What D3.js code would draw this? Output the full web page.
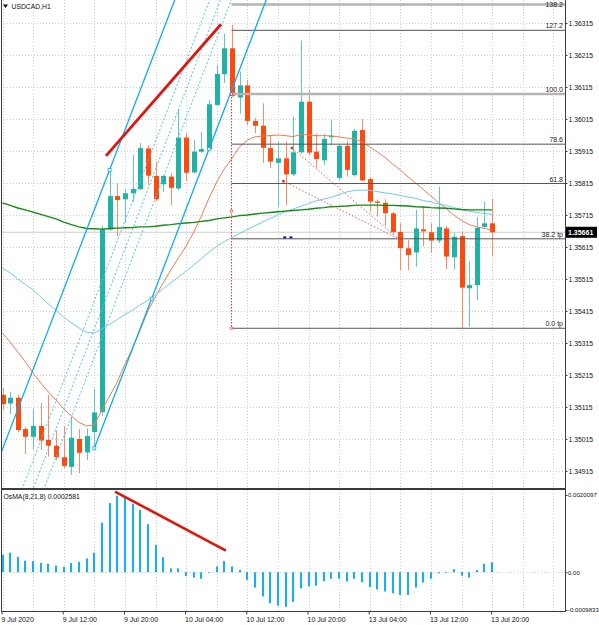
<!DOCTYPE html>
<html><head><meta charset="utf-8">
<script src="https://cdn.jsdelivr.net/npm/d3@7"></script>
<style>body{margin:0;background:#fff}svg{display:block;font-family:"Liberation Sans",Arial,sans-serif}</style>
</head><body><svg id="c" width="599" height="625"></svg>
<script>
// ---------------- DATA ----------------
const timeLabelIdx = [0,8,16,24,32,40,48,56,64];
const timeLabels = ["9 Jul 2020","9 Jul 12:00","9 Jul 20:00","10 Jul 04:00","10 Jul 12:00","10 Jul 20:00","13 Jul 04:00","13 Jul 12:00","13 Jul 20:00"];
const priceTicks = [1.34915,1.35015,1.35115,1.35215,1.35315,1.35415,1.35515,1.35615,1.35715,1.35815,1.35915,1.36015,1.36115,1.36215,1.36315];
const oscTicks = [0.0020097, 0, -0.0009833];
const oscTickLabels = ["0.0020097","0.00","-0.0009833"];

const opens=[1.35153,1.35126,1.35144,1.35046,1.35022,1.35056,1.35012,1.34994,1.34958,1.34928,
1.35015,1.34973,1.35037,1.35099,1.35670,1.35774,1.35764,1.35783,1.35796,1.35923,
1.35837,1.35811,1.35835,1.35798,1.35957,1.35848,1.35913,1.35921,1.36059,1.36155,
1.36236,1.36082,1.36120,1.36009,1.35994,1.35924,1.35878,1.35892,1.35842,1.35911,
1.36069,1.35913,1.35886,1.35958,1.35831,1.35931,1.35840,1.35981,1.35827,1.35757,
1.35753,1.35720,1.35662,1.35611,1.35598,1.35670,1.35661,1.35635,1.35673,1.35583,
1.35649,1.35486,1.35496,1.35678,1.35689];
const highs=[1.35174,1.35163,1.35153,1.35053,1.35108,1.35127,1.35153,1.35041,1.35056,1.35083,
1.35046,1.35048,1.35171,1.35681,1.35856,1.35814,1.35796,1.35902,1.35940,1.35934,
1.35882,1.35840,1.35845,1.36043,1.35971,1.35949,1.35975,1.36074,1.36184,1.36281,
1.36309,1.36163,1.36137,1.36018,1.36064,1.35965,1.35944,1.35944,1.36022,1.36260,
1.36106,1.35970,1.35968,1.36012,1.35937,1.35946,1.35984,1.36015,1.35831,1.35763,
1.35764,1.35724,1.35689,1.35637,1.35731,1.35741,1.35689,1.35803,1.35681,1.35659,
1.35663,1.35571,1.35708,1.35757,1.35765];
const lows=[1.35106,1.35093,1.35037,1.34968,1.34983,1.34981,1.34960,1.34949,1.34924,1.34903,
1.34908,1.34949,1.34986,1.35087,1.35665,1.35649,1.35690,1.35756,1.35793,1.35809,
1.35759,1.35787,1.35746,1.35793,1.35821,1.35845,1.35909,1.35918,1.36056,1.36128,
1.36084,1.36031,1.35996,1.35971,1.35878,1.35862,1.35741,1.35746,1.35837,1.35906,
1.35902,1.35861,1.35871,1.35934,1.35824,1.35835,1.35835,1.35821,1.35725,1.35710,
1.35681,1.35656,1.35543,1.35543,1.35553,1.35617,1.35597,1.35628,1.35546,1.35545,
1.35361,1.35366,1.35449,1.35674,1.35585];
const closes=[1.35124,1.35144,1.35043,1.35022,1.35056,1.35010,1.34994,1.34958,1.34931,1.35019,
1.34972,1.35024,1.35098,1.35671,1.35774,1.35762,1.35783,1.35796,1.35924,1.35838,
1.35764,1.35837,1.35800,1.35957,1.35847,1.35913,1.35921,1.36061,1.36156,1.36236,
1.36087,1.36120,1.36009,1.35994,1.35925,1.35882,1.35892,1.35842,1.35911,1.36069,
1.35910,1.35890,1.35953,1.35963,1.35931,1.35856,1.35978,1.35823,1.35757,1.35753,
1.35721,1.35662,1.35612,1.35590,1.35673,1.35664,1.35635,1.35677,1.35585,1.35647,
1.35488,1.35496,1.35675,1.35689,1.35661];

const maSlow=[1.35753,1.35745,1.35737,1.35731,1.35724,1.35717,1.35710,1.35703,1.35693,1.35685,
1.35678,1.35673,1.35672,1.35671,1.35673,1.35674,1.35675,1.35676,1.35678,1.35678,
1.35680,1.35683,1.35685,1.35688,1.35690,1.35692,1.35695,1.35698,1.35703,1.35706,
1.35709,1.35713,1.35715,1.35718,1.35721,1.35723,1.35725,1.35727,1.35729,1.35731,
1.35733,1.35736,1.35738,1.35741,1.35742,1.35743,1.35745,1.35746,1.35746,1.35746,
1.35745,1.35745,1.35744,1.35743,1.35741,1.35740,1.35738,1.35737,1.35736,1.35734,
1.35732,1.35731,1.35731,1.35731,1.35731];
const maMid=[1.35549,1.35534,1.35515,1.35498,1.35481,1.35459,1.35437,1.35417,1.35396,1.35378,
1.35362,1.35349,1.35346,1.35359,1.35374,1.35388,1.35404,1.35418,1.35434,1.35448,
1.35465,1.35484,1.35503,1.35521,1.35540,1.35559,1.35579,1.35599,1.35617,1.35632,
1.35645,1.35657,1.35670,1.35681,1.35693,1.35704,1.35715,1.35726,1.35734,1.35742,
1.35751,1.35759,1.35765,1.35770,1.35779,1.35787,1.35792,1.35793,1.35792,1.35788,
1.35784,1.35781,1.35776,1.35771,1.35767,1.35760,1.35756,1.35749,1.35745,1.35738,
1.35732,1.35727,1.35723,1.35720,1.35717];
const maFast=[1.35346,1.35318,1.35287,1.35256,1.35221,1.35190,1.35162,1.35137,1.35109,1.35087,
1.35067,1.35056,1.35059,1.35106,1.35149,1.35193,1.35249,1.35299,1.35356,1.35415,
1.35459,1.35503,1.35543,1.35581,1.35618,1.35662,1.35712,1.35768,1.35818,1.35859,
1.35893,1.35928,1.35949,1.35959,1.35962,1.35963,1.35965,1.35963,1.35960,1.35967,
1.35965,1.35963,1.35963,1.35962,1.35959,1.35955,1.35954,1.35943,1.35928,1.35912,
1.35895,1.35874,1.35856,1.35834,1.35815,1.35795,1.35774,1.35754,1.35735,1.35715,
1.35698,1.35685,1.35678,1.35673,1.35668];

const osma=[0.00045,0.00051,0.00040,0.00030,0.00029,0.00024,0.00022,0.00017,0.00014,0.00024,
0.00027,0.00036,0.00051,0.00129,0.00180,0.00199,0.00195,0.00178,0.00162,0.00125,
0.00071,0.00039,0.00010,0.00010,-0.00010,-0.00014,-0.00017,-0.00001,0.00015,0.00029,
0.00015,0.00006,-0.00020,-0.00040,-0.00063,-0.00081,-0.00087,-0.00090,-0.00077,-0.00042,
-0.00037,-0.00035,-0.00024,-0.00017,-0.00017,-0.00024,-0.00017,-0.00026,-0.00039,-0.00045,
-0.00050,-0.00055,-0.00059,-0.00059,-0.00040,-0.00027,-0.00017,-0.00003,-0.00002,0.00008,
-0.00009,-0.00014,0.00006,0.00022,0.000258];

// drawn objects (bar index, price)
const fibAnchorIdx = 30;
const fibHigh = 1.36093, fibLow = 1.35361;
const fibLevels = [0, 38.2, 61.8, 78.6, 100, 127.2, 138.2];
const fibLabels = ["0.0 tp","38.2 tp","61.8","78.6","100.0","127.2","138.2"];
const fibThick = [false,false,false,false,true,false,true];
const chanA = {i:12, p:1.34986}, chanB = {i:27, p:1.35921}, chanC = {i:14, p:1.35856};
const chanLevels = [0, 0.382, 0.5, 0.618, 1];
const redTrend = [{i:13.53, p:1.35900},{i:28.56, p:1.36311}];
const dotTrendA = [{i:37.8, p:1.35925},{i:51.7, p:1.35642}];
const dotTrendB = [{i:36.7, p:1.35821},{i:51.96, p:1.35638}];
const navyDots = [{i:36.9, p:1.35645},{i:37.7, p:1.35645}];
const oscTrend = [{i:14.7, v:0.00210},{i:29.2, v:0.00056}];
const bidPrice = 1.35661;
const symbolTitle = "USDCAD,H1";
const oscTitle = "OsMA(8,21,8) 0.0002581";

// ---------------- LAYOUT ----------------
const plotL = 1, plotR = 565, mainT = 0, mainB = 488, oscT = 490, oscB = 611;
const svg = d3.select("#c");
svg.append("rect").attr("width",599).attr("height",625).attr("fill","#fff");

const x = d3.scaleLinear().domain([0,64]).range([2.5, 2.5+7.65*64]);
const y = d3.scaleLinear().domain([1.34915,1.36315]).range([471,23]);
const yo = d3.scaleLinear().domain([-0.0009833,0.0020097]).range([610,495]);

const defs = svg.append("defs");
defs.append("clipPath").attr("id","cm").append("rect").attr("x",plotL).attr("y",mainT).attr("width",plotR-plotL).attr("height",mainB-mainT);
defs.append("clipPath").attr("id","co").append("rect").attr("x",plotL).attr("y",oscT).attr("width",plotR-plotL).attr("height",oscB-oscT);

const gM = svg.append("g").attr("clip-path","url(#cm)");
const gO = svg.append("g").attr("clip-path","url(#co)");

// grid
const gridIdx = d3.range(0, 76, 4);
const gridCol = "#cfcfcf";
[ [gM, mainT, mainB], [gO, oscT, oscB] ].forEach(([g,t,b]) => {
  g.selectAll(null).data(gridIdx).join("line")
    .attr("x1",d=>Math.round(x(d))+0.5).attr("x2",d=>Math.round(x(d))+0.5)
    .attr("y1",t).attr("y2",b).attr("stroke",gridCol).attr("stroke-dasharray","1,2");
});
gM.selectAll(null).data(priceTicks).join("line")
  .attr("x1",plotL).attr("x2",plotR).attr("y1",d=>Math.round(y(d))+0.5).attr("y2",d=>Math.round(y(d))+0.5)
  .attr("stroke",gridCol).attr("stroke-dasharray","1,2");
gO.append("line").attr("x1",plotL).attr("x2",plotR).attr("y1",Math.round(yo(0))+0.5).attr("y2",Math.round(yo(0))+0.5)
  .attr("stroke",gridCol).attr("stroke-dasharray","1,2");

// bid line
gM.append("line").attr("x1",plotL).attr("x2",plotR).attr("y1",y(bidPrice)).attr("y2",y(bidPrice))
  .attr("stroke","#cdcdcd").attr("stroke-width",1);

// candles
const idx = d3.range(opens.length);
const upCol = "#20b2a5", dnCol = "#ff4a0d";
const upWick = "#5fc8bf", dnWick = "#ff8a66";
gM.selectAll(null).data(idx).join("line")
  .attr("x1",i=>Math.round(x(i))+0.5).attr("x2",i=>Math.round(x(i))+0.5)
  .attr("y1",i=>y(highs[i])).attr("y2",i=>y(lows[i]))
  .attr("stroke",i=>closes[i]>=opens[i]?upWick:dnWick).attr("stroke-width",1);
gM.selectAll(null).data(idx).join("rect")
  .attr("x",i=>Math.round(x(i))-2).attr("width",5)
  .attr("y",i=>y(Math.max(opens[i],closes[i])))
  .attr("height",i=>Math.max(1.2, Math.abs(y(opens[i])-y(closes[i]))))
  .attr("fill",i=>closes[i]>=opens[i]?upCol:dnCol);

// moving averages
const lineGen = arr => d3.line().x((d,i)=>x(i)).y(d=>y(d))(arr);
gM.append("path").attr("d",lineGen(maFast)).attr("fill","none").attr("stroke","#f47a52").attr("stroke-width",1);
gM.append("path").attr("d",lineGen(maMid)).attr("fill","none").attr("stroke","#6fcaf0").attr("stroke-width",1);
gM.append("path").attr("d",lineGen(maSlow)).attr("fill","none").attr("stroke","#138a13").attr("stroke-width",1.4);

// fibonacci
const fibP = lv => fibLow + (fibHigh - fibLow) * lv / 100;
gM.selectAll(null).data(fibLevels).join("line")
  .attr("x1",x(fibAnchorIdx)-0.5).attr("x2",plotR)
  .attr("y1",d=>y(fibP(d))).attr("y2",d=>y(fibP(d)))
  .attr("stroke",(d,k)=>fibThick[k]?"#b4b4b4":"#555")
  .attr("stroke-width",(d,k)=>fibThick[k]?2.4:1);
gM.selectAll(null).data(fibLevels).join("text")
  .attr("x",plotR-2).attr("y",d=>Math.max(6.5, y(fibP(d))-2))
  .attr("text-anchor","end").attr("font-size",7).attr("fill","#222")
  .text((d,k)=>fibLabels[k]);
gM.append("line").attr("x1",x(fibAnchorIdx)-0.5).attr("x2",x(fibAnchorIdx)-0.5)
  .attr("y1",y(fibHigh)).attr("y2",y(fibLow)).attr("stroke","#ff3030").attr("stroke-dasharray","1.5,1.5");
gM.selectAll(null).data([fibHigh,(fibHigh+fibLow)/2,fibLow]).join("circle")
  .attr("cx",x(fibAnchorIdx)-0.5).attr("cy",d=>y(d)).attr("r",1.3)
  .attr("fill","#fff").attr("stroke","#ff3030").attr("stroke-width",0.8);

// fibonacci channel
const slope = (chanB.p - chanA.p) / (chanB.i - chanA.i);
const offset = chanC.p - (chanA.p + slope*(chanC.i - chanA.i));
chanLevels.forEach(lv => {
  const base = chanA.p + offset*(1-lv);
  const i0 = lv === 1 ? chanA.i : -10, i1 = 45;
  const p0 = base + slope*(i0 - chanA.i), p1 = base + slope*(i1 - chanA.i);
  const solid = (lv === 0 || lv === 1);
  gM.append("line").attr("x1",x(i0)).attr("y1",y(p0)).attr("x2",x(i1)).attr("y2",y(p1))
    .attr("stroke", solid ? "#10aaf0" : "#4cc4f4")
    .attr("stroke-width", solid ? 1.3 : 1)
    .attr("stroke-dasharray", solid ? null : "2,2");
});
const chanMarks = [chanA, chanB, chanC, {i:(chanA.i+chanB.i)/2, p:(chanA.p+chanB.p)/2}];
gM.selectAll(null).data(chanMarks).join("rect")
  .attr("x",d=>x(d.i)-1.5).attr("y",d=>y(d.p)-1.5).attr("width",3).attr("height",3)
  .attr("fill","#fff").attr("stroke","#10aaf0").attr("stroke-width",0.8);

// dotted red trend lines
[dotTrendA, dotTrendB].forEach(t => {
  gM.append("line").attr("x1",x(t[0].i)).attr("y1",y(t[0].p)).attr("x2",x(t[1].i)).attr("y2",y(t[1].p))
    .attr("stroke","#ff5a5a").attr("stroke-dasharray","1.5,2").attr("stroke-width",1);
  gM.append("rect").attr("x",x(t[0].i)-1).attr("y",y(t[0].p)-1).attr("width",2.4).attr("height",2.4).attr("fill","#e02020");
});
gM.selectAll(null).data(navyDots).join("rect")
  .attr("x",d=>x(d.i)-1.5).attr("y",d=>y(d.p)-1).attr("width",3).attr("height",2).attr("fill","#1a1a80");

// red thick trend
gM.append("line").attr("x1",x(redTrend[0].i)).attr("y1",y(redTrend[0].p))
  .attr("x2",x(redTrend[1].i)).attr("y2",y(redTrend[1].p))
  .attr("stroke","#e3140a").attr("stroke-width",2.8).attr("stroke-linecap","butt");

// OsMA histogram
gO.selectAll(null).data(idx).join("rect")
  .attr("x",i=>Math.round(x(i))-1).attr("width",2)
  .attr("y",i=>Math.min(yo(osma[i]),yo(0)))
  .attr("height",i=>Math.max(0.8,Math.abs(yo(osma[i])-yo(0))))
  .attr("fill","#0fb2f2");
gO.append("line").attr("x1",x(oscTrend[0].i)).attr("y1",yo(oscTrend[0].v))
  .attr("x2",x(oscTrend[1].i)).attr("y2",yo(oscTrend[1].v))
  .attr("stroke","#e3140a").attr("stroke-width",2.6);

// borders
const bc = "#3c3c3c";
svg.append("line").attr("x1",1.5).attr("x2",1.5).attr("y1",0).attr("y2",oscB).attr("stroke",bc);
svg.append("line").attr("x1",plotR+0.5).attr("x2",plotR+0.5).attr("y1",0).attr("y2",oscB+1).attr("stroke",bc);
svg.append("line").attr("x1",1).attr("x2",plotR+1).attr("y1",mainB+0.5).attr("y2",mainB+0.5).attr("stroke",bc);
svg.append("line").attr("x1",1).attr("x2",plotR+1).attr("y1",oscT-0.5).attr("y2",oscT-0.5).attr("stroke",bc);
svg.append("line").attr("x1",1).attr("x2",plotR+1).attr("y1",oscB+0.5).attr("y2",oscB+0.5).attr("stroke",bc);

// price axis
const ax = svg.append("g").attr("transform",`translate(${plotR+0.5},0)`)
  .call(d3.axisRight(y).tickValues(priceTicks).tickFormat(d3.format(".5f")).tickSize(2).tickPadding(1));
ax.select(".domain").remove();
ax.selectAll("line").attr("stroke",bc);
ax.selectAll("text").attr("font-size",6.8).attr("fill","#111").attr("font-family","Liberation Sans, Arial, sans-serif");

// osc axis
const ao = svg.append("g").attr("transform",`translate(${plotR+0.5},0)`)
  .call(d3.axisRight(yo).tickValues(oscTicks).tickFormat((d,k)=>oscTickLabels[k]).tickSize(2).tickPadding(0.5));
ao.select(".domain").remove();
ao.selectAll("line").attr("stroke",bc);
ao.selectAll("text").attr("font-size",6.1).attr("fill","#111").attr("font-family","Liberation Sans, Arial, sans-serif");

// bid label
const bg = svg.append("g");
bg.append("rect").attr("x",plotR+1).attr("y",y(bidPrice)-5.5).attr("width",31).attr("height",11).attr("fill","#000");
bg.append("text").attr("x",plotR+3).attr("y",y(bidPrice)+2.5).attr("font-size",7).attr("font-weight","bold")
  .attr("fill","#fff").text(d3.format(".5f")(bidPrice));

// time axis
const at = svg.append("g").attr("transform",`translate(0,${oscB+0.5})`)
  .call(d3.axisBottom(x).tickValues(timeLabelIdx).tickFormat((d,k)=>timeLabels[k]).tickSize(3).tickPadding(3));
at.select(".domain").remove();
at.selectAll("line").attr("stroke",bc).attr("transform","translate(-1,0)");
at.selectAll("text").attr("text-anchor","start").attr("dx","-1.5").attr("font-size",7).attr("fill","#111")
  .attr("font-family","Liberation Sans, Arial, sans-serif");

// titles
svg.append("path").attr("d","M3,4.5 L8,4.5 L5.5,8 Z").attr("fill","#111");
svg.append("text").attr("x",11.5).attr("y",9).attr("font-size",6.8).attr("fill","#111").text(symbolTitle);
svg.append("text").attr("x",3.5).attr("y",498.5).attr("font-size",6.8).attr("fill","#111").text(oscTitle);
</script>
</body></html>
